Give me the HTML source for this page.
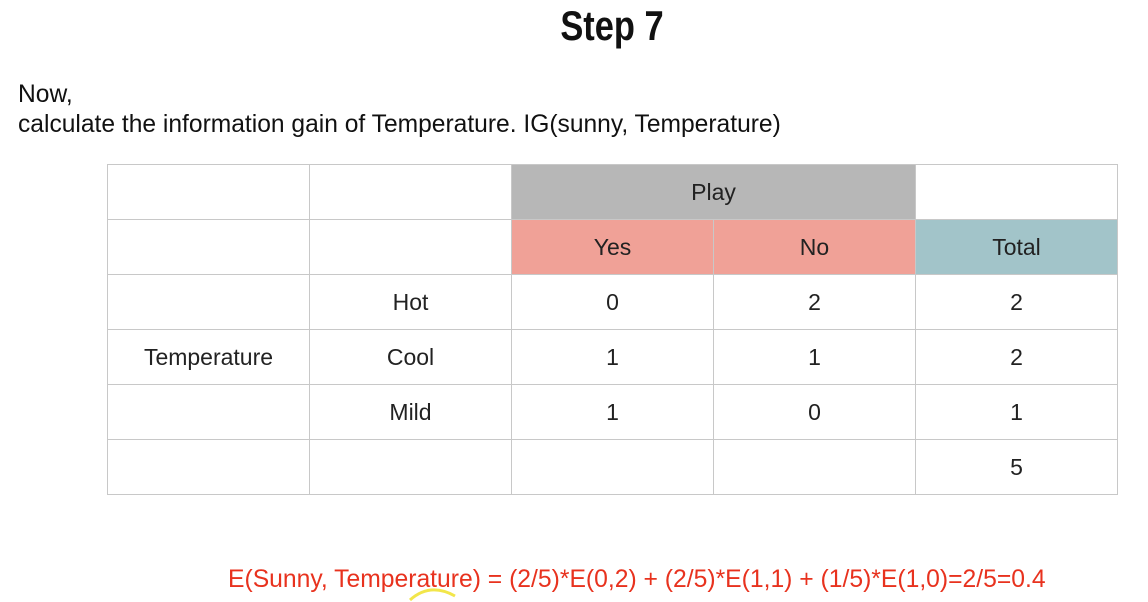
<!DOCTYPE html>
<html><head><meta charset="utf-8"><style>
body{margin:0;width:1148px;height:596px;background:#fff;position:relative;overflow:hidden;font-family:"Liberation Sans",sans-serif;}
.t{position:absolute;white-space:nowrap;}
table{position:absolute;left:107px;top:164px;border-collapse:collapse;}
td{border:1.5px solid #c8c8c8;width:201px;height:54px;padding:0;text-align:center;font-size:23px;color:#222;}
</style></head><body>
<div class="t" style="left:0;width:1224px;text-align:center;top:2px;font-weight:bold;font-size:42px;color:#111;transform:scaleX(0.82);transform-origin:612px 0;">Step 7</div>
<div class="t" style="left:18px;top:80px;font-size:24.6px;color:#111;line-height:30px;">Now,<br>calculate the information gain of Temperature. IG(sunny, Temperature)</div>
<table>
<tr><td></td><td></td><td colspan="2" style="background:#b7b7b7">Play</td><td></td></tr>
<tr><td></td><td></td><td style="background:#f0a197">Yes</td><td style="background:#f0a197">No</td><td style="background:#a2c4c9">Total</td></tr>
<tr><td></td><td>Hot</td><td>0</td><td>2</td><td>2</td></tr>
<tr><td>Temperature</td><td>Cool</td><td>1</td><td>1</td><td>2</td></tr>
<tr><td></td><td>Mild</td><td>1</td><td>0</td><td>1</td></tr>
<tr><td></td><td></td><td></td><td></td><td>5</td></tr>
</table>
<div class="t" style="left:228px;top:566px;font-size:24.7px;color:#e8321e;">E(Sunny, Temperature) = (2/5)*E(0,2) + (2/5)*E(1,1) + (1/5)*E(1,0)=2/5=0.4</div>
<svg style="position:absolute;left:405px;top:582px" width="60" height="20"><path d="M5 18 Q25 0 50 14" stroke="#f2e64a" stroke-width="3" fill="none"/></svg>
</body></html>
